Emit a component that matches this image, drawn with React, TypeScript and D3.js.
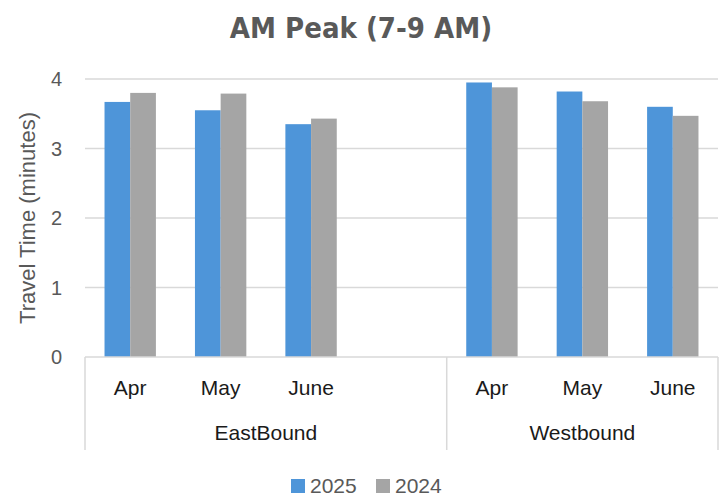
import React from "react";
import * as d3 from "d3";

const directions = ["EastBound", "Westbound"];
const months = ["Apr", "May", "June"];
const slotKeys = ["EastBound|Apr", "EastBound|May", "EastBound|June", "EastBound|", "Westbound|Apr", "Westbound|May", "Westbound|June"];
const seriesNames = ["2025", "2024"];
const values2025 = [3.67, 3.55, 3.35, null, 3.95, 3.82, 3.6];
const values2024 = [3.8, 3.79, 3.43, null, 3.88, 3.68, 3.47];
const yTicks = [0, 1, 2, 3, 4];
const colors = ["#4e95d9", "#a5a5a5"];

const W = 719;
const H = 502;
const left = 85;
const right = 718;
const top = 79;
const bottom = 357;

export default function App() {
  const x0 = d3.scaleBand<string>().domain(slotKeys).range([left, right]).paddingInner(0).paddingOuter(0);
  const x1 = d3.scaleBand<string>().domain(seriesNames).range([0, x0.bandwidth()]).paddingInner(0).paddingOuter(0.76);
  const y = d3.scaleLinear().domain([0, 4]).range([bottom, top]);
  const seriesVals = [values2025, values2024];

  const groupBounds = directions.map((dir) => {
    const keys = slotKeys.filter((k) => k.startsWith(dir + "|"));
    const x0s = keys.map((k) => x0(k) as number);
    return { dir, start: Math.min(...x0s), end: Math.max(...x0s) + x0.bandwidth() };
  });
  const sepXs = [left, groupBounds[0].end, right];

  const sans = "'Liberation Sans', Arial, sans-serif";
  return (
    <svg width={W} height={H} style={{ position: "absolute", left: 0, top: 0 }}>
      <rect width={W} height={H} fill="#fff" />
      <text x={361} y={38} textAnchor="middle" fontFamily="'Liberation Sans Narrow', 'DejaVu Sans Condensed', sans-serif" fontWeight="bold" fontSize={29} fill="#595959">
        AM Peak (7-9 AM)
      </text>
      {yTicks.map((t) => (
        <g key={t}>
          {t > 0 && <line x1={left} x2={right} y1={y(t)} y2={y(t)} stroke="#d9d9d9" strokeWidth={1.5} />}
          <text x={62} y={y(t) + 7} textAnchor="end" fontFamily={sans} fontSize={20} fill="#595959">
            {t}
          </text>
        </g>
      ))}
      <text transform={`translate(35,218) rotate(-90)`} textAnchor="middle" fontFamily={sans} fontSize={22} fill="#595959">
        Travel Time (minutes)
      </text>
      {slotKeys.map((k, i) =>
        seriesNames.map((s, j) => {
          const v = seriesVals[j][i];
          if (v == null) return null;
          return (
            <rect key={k + s} x={(x0(k) as number) + (x1(s) as number)} y={y(v)} width={x1.bandwidth()} height={y(0) - y(v)} fill={colors[j]} />
          );
        })
      )}
      <line x1={left} x2={right} y1={bottom} y2={bottom} stroke="#d9d9d9" strokeWidth={1.5} />
      {sepXs.map((sx, i) => (
        <line key={i} x1={sx} x2={sx} y1={bottom} y2={450} stroke="#d9d9d9" strokeWidth={1.5} />
      ))}
      {slotKeys.map((k) => {
        const m = k.split("|")[1];
        if (!m) return null;
        return (
          <text key={k} x={(x0(k) as number) + x0.bandwidth() / 2} y={395} textAnchor="middle" fontFamily={sans} fontSize={21} fill="#1a1a1a">
            {m}
          </text>
        );
      })}
      {groupBounds.map((g) => (
        <text key={g.dir} x={(g.start + g.end) / 2} y={440} textAnchor="middle" fontFamily={sans} fontSize={21} fill="#1a1a1a">
          {g.dir}
        </text>
      ))}
      {seriesNames.map((s, j) => {
        const lx = [291, 376][j];
        return (
          <g key={s}>
            <rect x={lx} y={479} width={14} height={14} fill={colors[j]} />
            <text x={lx + 19} y={493} fontFamily={sans} fontSize={21} fill="#595959">
              {s}
            </text>
          </g>
        );
      })}
    </svg>
  );
}
